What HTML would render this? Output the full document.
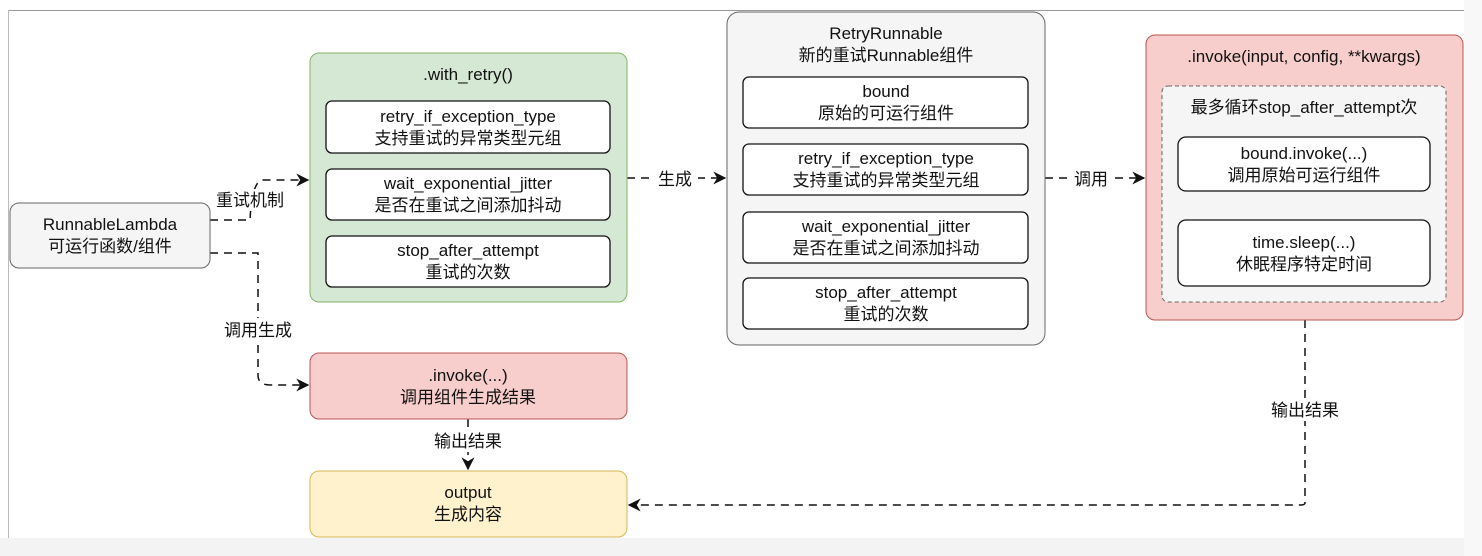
<!DOCTYPE html>
<html><head><meta charset="utf-8"><style>
html,body{margin:0;padding:0;background:#fff;}
svg{display:block;}
text{font-family:"Liberation Sans","Noto Sans CJK SC",sans-serif;font-size:17px;fill:#111;text-anchor:middle;}
</style></head><body>
<svg width="1482" height="556" viewBox="0 0 1482 556" xmlns="http://www.w3.org/2000/svg">
<defs>
<marker id="a" viewBox="0 0 10 10" refX="9" refY="5" markerWidth="13" markerHeight="13" markerUnits="userSpaceOnUse" orient="auto">
<path d="M0,0 L10,5 L0,10 L3,5 Z" fill="#111"/></marker>
</defs>
<rect x="0" y="538" width="1482" height="18" fill="#f3f3f3"/>
<rect x="1464" y="0" width="18" height="556" fill="#f8f8f8"/>
<line x1="8" y1="10.5" x2="1464" y2="10.5" stroke="#999" stroke-width="1"/>
<line x1="8.5" y1="10" x2="8.5" y2="538" stroke="#bbb" stroke-width="1"/>

<g fill="none" stroke="#111" stroke-width="1.5" stroke-dasharray="8,6">
<path d="M210,220 H250 Q252,182 262,180 H308" marker-end="url(#a)"/>
<path d="M210,253 H258 V375 Q258,385 270,385 H308" marker-end="url(#a)"/>
<path d="M627,178 H725" marker-end="url(#a)"/>
<path d="M1045,178 H1144" marker-end="url(#a)"/>
<path d="M468,419 V469" marker-end="url(#a)"/>
<path d="M1305,320 V503 Q1305,505 1300,505 H629" marker-end="url(#a)"/>
</g>
<g>
<rect x="216" y="189" width="68" height="22" fill="#fff"/><text x="250" y="206">重试机制</text>
<rect x="218" y="318" width="80" height="22" fill="#fff"/><text x="258" y="336">调用生成</text>
<rect x="652" y="168" width="46" height="22" fill="#fff"/><text x="675" y="185">生成</text>
<rect x="1068" y="168" width="46" height="22" fill="#fff"/><text x="1091" y="185">调用</text>
<rect x="430" y="430" width="76" height="22" fill="#fff"/><text x="468" y="447">输出结果</text>
<rect x="1267" y="399" width="76" height="22" fill="#fff"/><text x="1305" y="416">输出结果</text>
</g>

<rect x="10" y="203" width="200" height="65" rx="9" fill="#f5f5f5" stroke="#666"/>
<text x="110" y="230" fill="#333">RunnableLambda</text><text x="110" y="252" fill="#333">可运行函数/组件</text>

<rect x="310" y="53" width="317" height="249" rx="9" fill="#d5e8d4" stroke="#82b366"/>
<text x="468" y="80">.with_retry()</text>
<rect x="326" y="101" width="284" height="52" rx="6" fill="#fff" stroke="#111" stroke-width="1.3"/>
<text x="468" y="122">retry_if_exception_type</text><text x="468" y="144">支持重试的异常类型元组</text>
<rect x="326" y="169" width="284" height="51" rx="6" fill="#fff" stroke="#111" stroke-width="1.3"/>
<text x="468" y="189">wait_exponential_jitter</text><text x="468" y="211">是否在重试之间添加抖动</text>
<rect x="326" y="236" width="284" height="51" rx="6" fill="#fff" stroke="#111" stroke-width="1.3"/>
<text x="468" y="256">stop_after_attempt</text><text x="468" y="278">重试的次数</text>

<rect x="310" y="353" width="317" height="66" rx="9" fill="#f8cecc" stroke="#b85450"/>
<text x="468" y="381">.invoke(...)</text><text x="468" y="403">调用组件生成结果</text>

<rect x="310" y="471" width="317" height="66" rx="9" fill="#fff2cc" stroke="#d6b656"/>
<text x="468" y="498">output</text><text x="468" y="520">生成内容</text>

<rect x="727" y="12" width="318" height="333" rx="12" fill="#f5f5f5" stroke="#666"/>
<text x="886" y="39" fill="#333">RetryRunnable</text><text x="886" y="61" fill="#333">新的重试Runnable组件</text>
<rect x="743" y="77" width="285" height="51" rx="6" fill="#fff" stroke="#111" stroke-width="1.3"/>
<text x="886" y="97">bound</text><text x="886" y="119">原始的可运行组件</text>
<rect x="743" y="144" width="285" height="51" rx="6" fill="#fff" stroke="#111" stroke-width="1.3"/>
<text x="886" y="164">retry_if_exception_type</text><text x="886" y="186">支持重试的异常类型元组</text>
<rect x="743" y="212" width="285" height="51" rx="6" fill="#fff" stroke="#111" stroke-width="1.3"/>
<text x="886" y="232">wait_exponential_jitter</text><text x="886" y="254">是否在重试之间添加抖动</text>
<rect x="743" y="278" width="285" height="51" rx="6" fill="#fff" stroke="#111" stroke-width="1.3"/>
<text x="886" y="298">stop_after_attempt</text><text x="886" y="320">重试的次数</text>

<rect x="1146" y="35" width="317" height="285" rx="9" fill="#f8cecc" stroke="#b85450"/>
<text x="1304" y="62">.invoke(input, config, **kwargs)</text>
<rect x="1162" y="86" width="284" height="216" rx="6" fill="#f5f5f5" stroke="#666" stroke-dasharray="4,3"/>
<text x="1304" y="113" fill="#333">最多循环stop_after_attempt次</text>
<rect x="1178" y="137" width="252" height="54" rx="8" fill="#fff" stroke="#111" stroke-width="1.3"/>
<text x="1304" y="159">bound.invoke(...)</text><text x="1304" y="181">调用原始可运行组件</text>
<rect x="1178" y="220" width="252" height="66" rx="8" fill="#fff" stroke="#111" stroke-width="1.3"/>
<text x="1304" y="248">time.sleep(...)</text><text x="1304" y="270">休眠程序特定时间</text>
</svg>
</body></html>
